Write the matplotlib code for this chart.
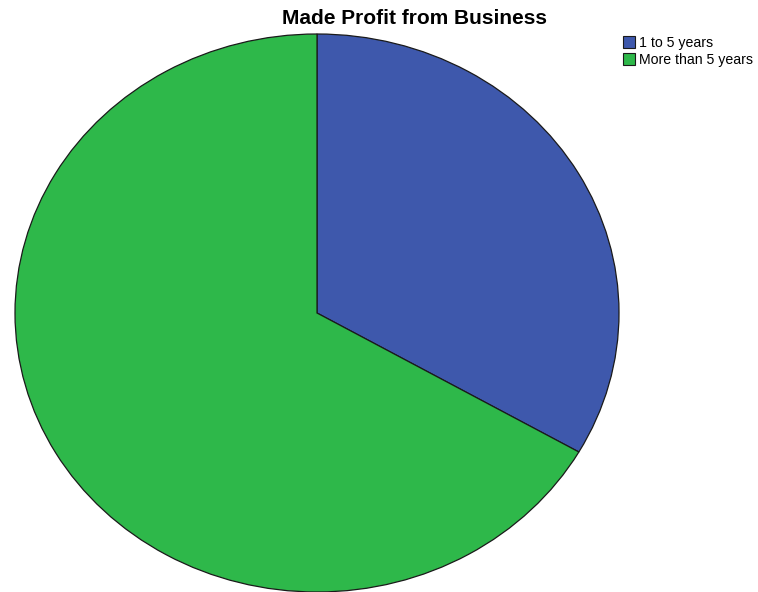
import matplotlib.pyplot as plt
from matplotlib.patches import Patch

labels = ["1 to 5 years", "More than 5 years"]
values = [33.3, 66.7]
colors = ["#3e58ac", "#2eb84a"]

plt.rcParams['font.family'] = ['Liberation Sans', 'DejaVu Sans']

fig = plt.figure(figsize=(7.58, 5.92), dpi=100)
ax = fig.add_axes([15 / 758, 0.0, 604 / 758, 558 / 592])

wedges, _ = ax.pie(values, colors=colors, startangle=90, counterclock=False,
                   wedgeprops=dict(edgecolor="#1a1a1a", linewidth=0.9))
for w in wedges:
    w.set_clip_on(False)
ax.set_aspect('auto')
ax.set_xlim(-1, 1)
ax.set_ylim(-1, 1)
ax.axis('off')

fig.text(415 / 758, 1 - 18 / 592, "Made Profit from Business", ha="center", va="center",
         fontsize=15, fontweight="bold")

handles = [Patch(facecolor=c, edgecolor="#1a1a1a", linewidth=0.8) for c in colors]
fig.legend(handles, labels, loc="upper left", bbox_to_anchor=(623 / 758, 1 - 36 / 592),
           frameon=False, fontsize=10.2, handlelength=0.85, handleheight=0.9,
           handletextpad=0.25, labelspacing=0.2, borderaxespad=0, borderpad=0)

fig.savefig("out.png", dpi=100)
